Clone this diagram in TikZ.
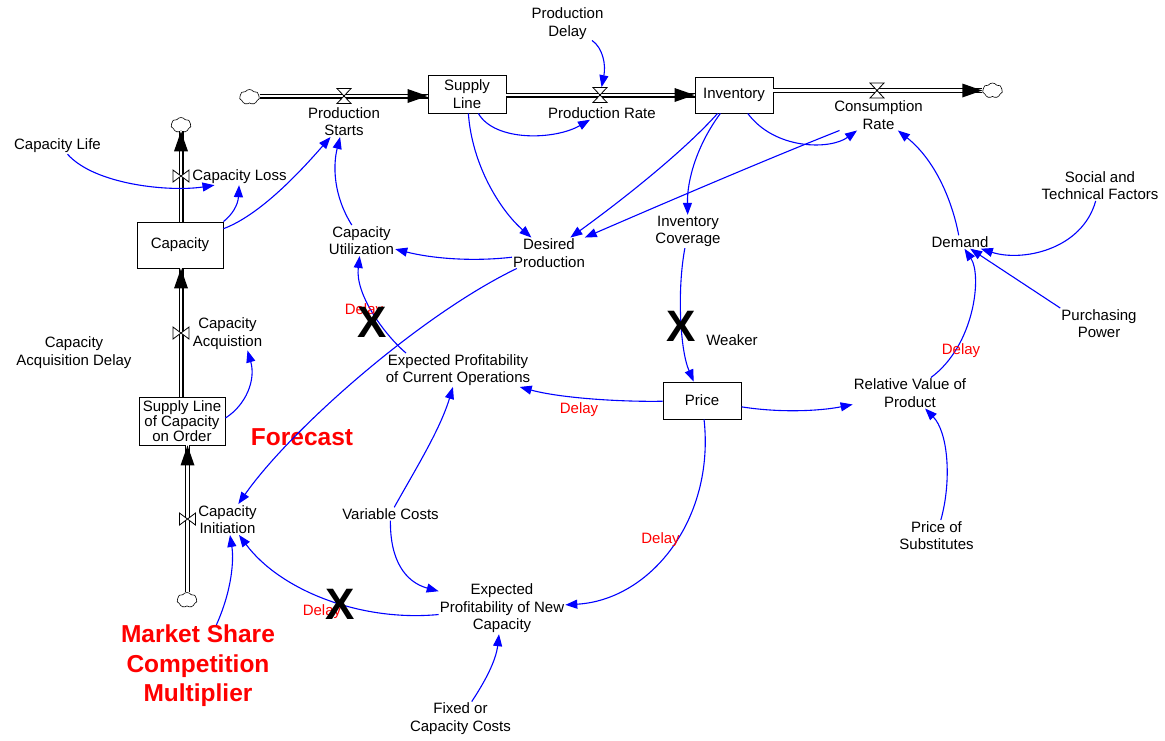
\documentclass[tikz,border=0pt]{standalone}
\usepackage{fontspec}
\setmainfont{Liberation Sans}
\usetikzlibrary{arrows.meta,shapes.symbols,calc}
\definecolor{linkblue}{RGB}{0,0,255}
\tikzset{
 var/.style={align=center, inner sep=1pt, font=\fontsize{15}{17.5}\selectfont},
 stock/.style={draw, line width=0.9pt, align=center, inner sep=1pt, fill=white, font=\fontsize{15}{17.5}\selectfont},
 lnk/.style={draw=linkblue, line width=1.1pt, -{Triangle[length=12pt,width=9pt]}},
 pipe/.style={draw=black, line width=1.2pt, double=white, double distance=2.6pt},
 cloudy/.style={cloud, draw, cloud puffs=7, cloud puff arc=110, minimum width=20pt, minimum height=15pt, inner sep=0pt, line width=0.6pt, aspect=1.4, fill=white},
 dlabel/.style={text=red, font=\fontsize{15}{17}\selectfont, inner sep=0pt},
 xmark/.style={font=\fontsize{44}{44}\bfseries\selectfont, inner sep=0pt},
 redbig/.style={text=red, align=center, font=\fontsize{24.5}{29.5}\bfseries\selectfont, inner sep=0pt},
 hvalve/.pic={\draw[fill=white, line width=0.8pt] (-7,-7.5)--(7,-7.5)--(-7,7.5)--(7,7.5)--cycle;},
 vvalve/.pic={\draw[fill=white, line width=0.8pt] (-8,-6)--(-8,6)--(8,-6)--(8,6)--cycle;},
 headR/.pic={\fill (0,0)--(-20,-7)--(-20,7)--cycle;},
 headU/.pic={\fill (0,0)--(-7,20)--(7,20)--cycle;},
}
\begin{document}
\begin{tikzpicture}[x=1pt,y=-1pt]
\useasboundingbox[fill=white] (0,0) rectangle (1165,740);

% stocks
\node[stock, minimum width=78pt, minimum height=38pt] (supl) at (467,94) {Supply\\Line};
\node[stock, minimum width=78pt, minimum height=36pt] (inv) at (734,95) {Inventory};
\node[stock, minimum width=86pt, minimum height=46pt] (cap) at (180,245) {Capacity};
\node[stock, minimum width=86pt, minimum height=48pt, font=\fontsize{15}{15}\selectfont] (slco) at (182,421) {Supply Line\\of Capacity\\on Order};
\node[stock, minimum width=78pt, minimum height=37pt] (price) at (702,400.5) {Price};

% clouds
\node[cloudy] (cloudA) at (249.5,97) {};
\node[cloudy] (cloudB) at (992.5,90.5) {};
\node[cloudy] (cloudC) at (181,125) {};
\node[cloudy] (cloudD) at (187,600) {};

% valve positions
\coordinate (vps) at (344,96);
\coordinate (vpr) at (600,95);
\coordinate (vcr) at (877,90.5);
\coordinate (vcl) at (181,176);
\coordinate (vca) at (181,333);
\coordinate (vci) at (187.5,519);

% flow labels
\node[var] (ps) at (344,121.5) {Production\\Starts};
\node[var] (pr) at (602,113) {Production Rate};
\node[var] (cr) at (878.5,115) {Consumption\\Rate};
\node[var] (cl) at (239.5,177) {Capacity Loss};
\node[var] (ca) at (227.5,333.5) {Capacity\\Acquistion};
\node[var] (ci) at (227.5,519.5) {Capacity\\Initiation};

% auxiliaries
\node[var] (pd) at (567.5,23.5) {Production\\Delay};
\node[var] (clife) at (57.5,146) {Capacity Life};
\node[var] (cad) at (74,352.5) {Capacity\\Acquisition Delay};
\node[var] (cu) at (361.5,240.5) {Capacity\\Utilization};
\node[var] (dp) at (549,253) {Desired\\Production};
\node[var] (ic) at (688,231.5) {Inventory\\Coverage};
\node[var] (dem) at (960,242) {Demand};
\node[var] (stf) at (1100,185.5) {Social and\\Technical Factors};
\node[var] (pp) at (1099,323.5) {Purchasing\\Power};
\node[var] (epco) at (458,370) {Expected Profitability\\of Current Operations};
\node[var] (rvp) at (910,393) {Relative Value of\\Product};
\node[var] (vc) at (390.5,514) {Variable Costs};
\node[var] (epnc) at (502,608.5) {Expected\\Profitability of New\\Capacity};
\node[var] (fcc) at (460.5,718.5) {Fixed or\\Capacity Costs};
\node[var] (pos) at (936.5,535.5) {Price of\\Substitutes};
\node[var] (weak) at (732,340) {Weaker};
\node[redbig] (fore) at (302,437) {Forecast};
\node[redbig] (msc) at (198,666) {Market Share\\Competition\\Multiplier};

% pipes
\draw[pipe] (cloudA.east |- vps) -- (supl.west |- vps);
\pic at (supl.west |- vps) {headR};
\draw[pipe] (supl.east |- vpr) -- (inv.west |- vpr);
\pic at (inv.west |- vpr) {headR};
\draw[pipe] (inv.east |- vcr) -- (cloudB.west |- vcr);
\pic at (cloudB.west |- vcr) {headR};
\draw[pipe] (cap.north -| vcl) -- (cloudC.south -| vcl);
\pic at (cloudC.south -| vcl) {headU};
\draw[pipe] (slco.north -| vca) -- (cap.south -| vca);
\pic at (cap.south -| vca) {headU};
\draw[pipe] (cloudD.north -| vci) -- (slco.south -| vci);
\pic at (slco.south -| vci) {headU};

% links
\draw[lnk, shorten >=8pt] (pd) .. controls (603,48) and (606,65) .. (vpr);
\draw[lnk] (supl) .. controls (495,142) and (555,140) .. ([xshift=-12pt]pr.south);
\draw[lnk] (supl) .. controls (472,165) and (500,210) .. (dp);
\draw[lnk] (inv) .. controls (685,150) and (625,198) .. (dp);
\draw[lnk] (cr) .. controls (760,162) and (660,205) .. (dp);
\draw[lnk] (inv) .. controls (775,150) and (830,150) .. (cr);
\draw[lnk] (inv) .. controls (697,145) and (687,180) .. (ic);
\draw[lnk] (ic) .. controls (677,290) and (680,350) .. (price);
\draw[lnk] (dem) .. controls (952,200) and (935,160) .. (cr);
\draw[lnk] (stf) .. controls (1082,250) and (1022,262) .. (dem);
\draw[lnk] (pp.north west) -- (dem);
\draw[lnk] (rvp) .. controls (975,345) and (982,275) .. (dem);
\draw[lnk] (pos) .. controls (952,480) and (948,432) .. (rvp);
\draw[lnk] (price) .. controls (780,413) and (820,411) .. (rvp);
\draw[lnk] (price) .. controls (620,402) and (560,398) .. (epco);
\draw[lnk] (price) .. controls (715,520) and (650,600) .. (epnc);
\draw[lnk] (vc) .. controls (415,470) and (440,430) .. (epco);
\draw[lnk] (vc) .. controls (390,560) and (405,582) .. (epnc);
\draw[lnk] (fcc) .. controls (486,680) and (496,660) .. (epnc);
\draw[lnk] (epnc) .. controls (360,622) and (280,590) .. (ci);
\draw[lnk] (msc) .. controls (232,590) and (234,560) .. (ci);
\draw[lnk] (dp) .. controls (420,315) and (290,430) .. (ci);
\draw[lnk] (dp) .. controls (470,262) and (430,258) .. (cu);
\draw[lnk] ([xshift=-52pt]epco.north) .. controls (385,335) and (355,295) .. (cu);
\draw[lnk] (cu) .. controls (333,195) and (333,165) .. (ps);
\draw[lnk] (cap) .. controls (260,215) and (300,172) .. (ps);
\draw[lnk] (cap.north east) .. controls (232,215) and (238,205) .. (cl);
\draw[lnk] ([xshift=10pt]clife.south) .. controls (95,185) and (170,192) .. ([xshift=-25pt]cl.south);
\draw[lnk] ([yshift=3pt]slco.east) .. controls (246,405) and (256,380) .. ([xshift=20pt]ca.south);

% valves on top
\pic at (vps) {hvalve};
\pic at (vpr) {hvalve};
\pic at (vcr) {hvalve};
\pic at (vcl) {vvalve};
\pic at (vca) {vvalve};
\pic at (vci) {vvalve};

% delay labels and X marks
\node[dlabel] (d1) at (364,311) {Delay};
\node[dlabel] (d2) at (579,410) {Delay};
\node[dlabel] (d3) at (961,351) {Delay};
\node[dlabel] (d4) at (660.5,540) {Delay};
\node[dlabel] (d5) at (322,612) {Delay};
\node[xmark] (x1) at (372.5,322.5) {X};
\node[xmark] (x2) at (681,326.5) {X};
\node[xmark] (x3) at (340,604) {X};
\end{tikzpicture}
\end{document}
